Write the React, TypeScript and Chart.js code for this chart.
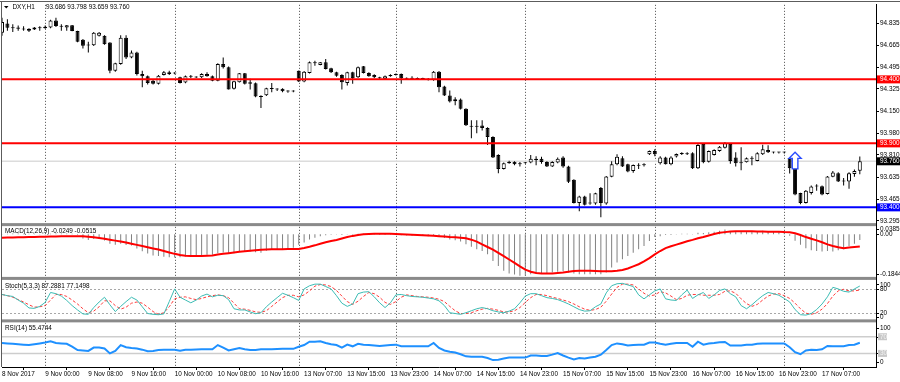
import React, { useEffect, useRef } from 'react';
import { Chart, registerables } from 'chart.js';

Chart.register(...registerables);

// ---------------- data ----------------
const SYMBOL = 'DXY,H1';
const LAST_OHLC = ['93.686', '93.798', '93.659', '93.760'];

const TIME_LABELS = [
  '8 Nov 2017', '9 Nov 00:00', '9 Nov 08:00', '9 Nov 16:00', '10 Nov 00:00', '10 Nov 08:00',
  '10 Nov 16:00', '13 Nov 07:00', '13 Nov 15:00', '13 Nov 23:00', '14 Nov 07:00', '14 Nov 15:00',
  '14 Nov 23:00', '15 Nov 07:00', '15 Nov 15:00', '15 Nov 23:00', '16 Nov 07:00', '16 Nov 15:00',
  '16 Nov 23:00', '17 Nov 07:00',
];
const LABEL_STEP = 8;
const SLOT_COUNT = 163;
const DAY_STARTS = [8, 32, 55, 73, 97, 121, 145];

const OPEN = [
  94.765, 94.837, 94.800, 94.805, 94.795, 94.795, 94.790, 94.805, 94.800, 94.805,
  94.860, 94.817, 94.805, 94.822, 94.778, 94.710, 94.665, 94.667, 94.740, 94.740,
  94.688, 94.468, 94.520, 94.726, 94.571, 94.610, 94.442, 94.424, 94.390, 94.365,
  94.434, 94.455, 94.445, 94.416, 94.375, 94.424, 94.420, 94.416, 94.442, 94.424,
  94.390, 94.520, 94.494, 94.326, 94.378, 94.447, 94.378, 94.370, 94.267, 94.275,
  94.330, 94.326, 94.326, 94.310, 94.305, 94.468, 94.383, 94.450, 94.530, 94.512,
  94.533, 94.486, 94.455, 94.434, 94.372, 94.455, 94.416, 94.502, 94.450, 94.434,
  94.416, 94.405, 94.424, 94.434, 94.442, 94.409, 94.405, 94.410, 94.403, 94.405,
  94.398, 94.460, 94.345, 94.274, 94.230, 94.243, 94.171, 94.030, 94.030, 94.040,
  94.020, 93.950, 93.810, 93.700, 93.745, 93.757, 93.737, 93.745, 93.750, 93.780,
  93.780, 93.755, 93.720, 93.750, 93.790, 93.720, 93.615, 93.435, 93.485, 93.430,
  93.430, 93.551, 93.430, 93.640, 93.737, 93.783, 93.737, 93.685, 93.725, 93.730,
  93.815, 93.840, 93.745, 93.790, 93.737, 93.797, 93.817, 93.820, 93.822, 93.706,
  93.895, 93.757, 93.810, 93.840, 93.865, 93.895, 93.790, 93.745, 93.753, 93.783,
  93.763, 93.815, 93.848, 93.830, 93.828, 93.830, 93.785, 93.705, 93.512, 93.434,
  93.512, 93.563, 93.565, 93.505, 93.640, 93.667, 93.602, 93.603, 93.660, 93.686,
];
const HIGH = [
  94.882, 94.870, 94.830, 94.820, 94.815, 94.800, 94.810, 94.815, 94.820, 94.865,
  94.882, 94.830, 94.825, 94.825, 94.780, 94.715, 94.693, 94.770, 94.770, 94.745,
  94.690, 94.530, 94.745, 94.745, 94.625, 94.615, 94.468, 94.430, 94.400, 94.435,
  94.465, 94.468, 94.455, 94.420, 94.430, 94.435, 94.425, 94.447, 94.455, 94.430,
  94.525, 94.571, 94.500, 94.390, 94.450, 94.450, 94.405, 94.375, 94.275, 94.335,
  94.372, 94.330, 94.330, 94.315, 94.315, 94.470, 94.465, 94.540, 94.546, 94.535,
  94.560, 94.490, 94.460, 94.440, 94.460, 94.460, 94.500, 94.505, 94.455, 94.440,
  94.420, 94.430, 94.440, 94.445, 94.445, 94.415, 94.425, 94.415, 94.412, 94.410,
  94.465, 94.465, 94.350, 94.313, 94.260, 94.250, 94.175, 94.080, 94.080, 94.080,
  94.025, 93.955, 93.815, 93.750, 93.765, 93.760, 93.755, 93.755, 93.810, 93.800,
  93.795, 93.760, 93.760, 93.790, 93.800, 93.725, 93.620, 93.490, 93.490, 93.510,
  93.515, 93.560, 93.645, 93.760, 93.815, 93.800, 93.740, 93.735, 93.745, 93.745,
  93.845, 93.855, 93.800, 93.795, 93.800, 93.820, 93.830, 93.830, 93.830, 93.900,
  93.900, 93.845, 93.855, 93.880, 93.910, 93.900, 93.830, 93.870, 93.790, 93.800,
  93.830, 93.890, 93.885, 93.835, 93.835, 93.835, 93.790, 93.710, 93.515, 93.535,
  93.570, 93.580, 93.570, 93.645, 93.685, 93.675, 93.630, 93.675, 93.695, 93.798,
];
const LOW = [
  94.740, 94.780, 94.770, 94.780, 94.780, 94.770, 94.785, 94.780, 94.795, 94.800,
  94.810, 94.780, 94.780, 94.775, 94.690, 94.641, 94.610, 94.660, 94.735, 94.670,
  94.447, 94.460, 94.515, 94.560, 94.565, 94.430, 94.339, 94.360, 94.360, 94.360,
  94.430, 94.435, 94.440, 94.368, 94.370, 94.410, 94.410, 94.410, 94.420, 94.385,
  94.385, 94.485, 94.320, 94.320, 94.375, 94.360, 94.321, 94.260, 94.176, 94.270,
  94.300, 94.310, 94.300, 94.295, 94.300, 94.380, 94.378, 94.445, 94.507, 94.510,
  94.478, 94.450, 94.420, 94.321, 94.352, 94.365, 94.410, 94.445, 94.420, 94.410,
  94.400, 94.400, 94.420, 94.430, 94.365, 94.400, 94.400, 94.398, 94.398, 94.392,
  94.390, 94.300, 94.270, 94.220, 94.197, 94.165, 94.035, 93.940, 93.980, 94.000,
  93.887, 93.785, 93.667, 93.695, 93.740, 93.730, 93.720, 93.740, 93.745, 93.730,
  93.740, 93.715, 93.715, 93.745, 93.710, 93.590, 93.430, 93.370, 93.415, 93.420,
  93.420, 93.323, 93.420, 93.635, 93.730, 93.715, 93.675, 93.670, 93.700, 93.720,
  93.810, 93.800, 93.735, 93.735, 93.730, 93.790, 93.810, 93.810, 93.700, 93.700,
  93.745, 93.750, 93.805, 93.835, 93.860, 93.740, 93.720, 93.690, 93.750, 93.730,
  93.760, 93.810, 93.825, 93.820, 93.820, 93.820, 93.665, 93.495, 93.425, 93.430,
  93.500, 93.530, 93.495, 93.500, 93.635, 93.598, 93.570, 93.545, 93.640, 93.659,
];
const CLOSE = [
  94.848, 94.804, 94.805, 94.795, 94.790, 94.780, 94.805, 94.800, 94.812, 94.860,
  94.817, 94.812, 94.822, 94.778, 94.693, 94.662, 94.668, 94.765, 94.765, 94.675,
  94.468, 94.525, 94.726, 94.571, 94.610, 94.442, 94.424, 94.372, 94.365, 94.429,
  94.455, 94.442, 94.447, 94.372, 94.424, 94.420, 94.415, 94.442, 94.424, 94.390,
  94.520, 94.494, 94.321, 94.385, 94.447, 94.365, 94.365, 94.267, 94.262, 94.330,
  94.325, 94.320, 94.308, 94.305, 94.310, 94.383, 94.460, 94.533, 94.525, 94.533,
  94.481, 94.455, 94.429, 94.378, 94.455, 94.409, 94.494, 94.450, 94.424, 94.416,
  94.409, 94.424, 94.434, 94.440, 94.409, 94.405, 94.410, 94.403, 94.405, 94.398,
  94.460, 94.339, 94.274, 94.228, 94.245, 94.171, 94.042, 94.030, 94.035, 94.020,
  93.950, 93.790, 93.700, 93.745, 93.757, 93.737, 93.745, 93.750, 93.780, 93.770,
  93.755, 93.720, 93.755, 93.780, 93.720, 93.600, 93.435, 93.485, 93.420, 93.430,
  93.510, 93.434, 93.641, 93.737, 93.796, 93.719, 93.680, 93.731, 93.730, 93.733,
  93.840, 93.815, 93.790, 93.737, 93.790, 93.817, 93.820, 93.815, 93.706, 93.887,
  93.752, 93.840, 93.848, 93.874, 93.900, 93.763, 93.745, 93.750, 93.783, 93.780,
  93.822, 93.855, 93.830, 93.828, 93.830, 93.828, 93.705, 93.500, 93.434, 93.530,
  93.563, 93.567, 93.500, 93.641, 93.672, 93.602, 93.605, 93.667, 93.685, 93.760,
];

const PRICE_TICKS = [94.835, 94.665, 94.495, 94.325, 94.15, 93.98, 93.81, 93.635, 93.465, 93.295];
const RESISTANCE_LEVELS = [94.4, 93.9];
const SUPPORT_LEVELS = [93.4];
const BID_PRICE = 93.76;
const ARROW_BAR = 147;
const ARROW_PRICE = 93.83;

const MACD_TITLE = 'MACD(12,26,9) -0.0249 -0.0515';
const MACD_MAIN = [
  0.001, 0.002, 0.003, 0.003, 0.002, 0.002, 0.001, 0.001, 0.001, 0.002,
  0.003, 0.003, 0.003, 0.002, -0.002, -0.018, -0.024, -0.020, -0.019, -0.026,
  -0.040, -0.045, -0.040, -0.046, -0.048, -0.060, -0.072, -0.082, -0.090, -0.092,
  -0.095, -0.097, -0.098, -0.097, -0.094, -0.092, -0.090, -0.088, -0.087, -0.087,
  -0.080, -0.077, -0.084, -0.080, -0.073, -0.074, -0.073, -0.076, -0.078, -0.070,
  -0.066, -0.063, -0.062, -0.060, -0.057, -0.045, -0.035, -0.022, -0.015, -0.008,
  -0.004, -0.002, 0.001, -0.003, -0.001, -0.002, 0.002, 0.002, 0.000, -0.002,
  -0.003, -0.003, -0.002, -0.002, -0.004, -0.005, -0.006, -0.006, -0.007, -0.008,
  -0.004, -0.010, -0.016, -0.022, -0.025, -0.031, -0.042, -0.053, -0.064, -0.071,
  -0.085, -0.113, -0.134, -0.155, -0.166, -0.171, -0.176, -0.176, -0.169, -0.166,
  -0.164, -0.164, -0.162, -0.159, -0.157, -0.162, -0.166, -0.169, -0.169, -0.169,
  -0.169, -0.169, -0.162, -0.141, -0.120, -0.106, -0.092, -0.078, -0.064, -0.050,
  -0.029, -0.012, -0.008, -0.003, -0.003, -0.001, 0.002, 0.002, -0.001, 0.006,
  0.005, 0.008, 0.011, 0.015, 0.020, 0.013, 0.010, 0.009, 0.010, 0.010,
  0.012, 0.015, 0.014, 0.013, 0.012, 0.011, -0.006, -0.028, -0.045, -0.059,
  -0.068, -0.071, -0.073, -0.071, -0.073, -0.068, -0.064, -0.050, -0.040, -0.0249,
];
const MACD_SIGNAL = [
  -0.0146, -0.014, -0.0135, -0.013, -0.0125, -0.012, -0.0115, -0.011, -0.0105, -0.010,
  -0.0095, -0.009, -0.0085, -0.008, -0.008, -0.009, -0.011, -0.013, -0.016, -0.019,
  -0.023, -0.027, -0.031, -0.035, -0.040, -0.045, -0.050, -0.055, -0.060, -0.065,
  -0.071, -0.077, -0.083, -0.088, -0.091, -0.092, -0.092, -0.092, -0.091, -0.090,
  -0.086, -0.083, -0.080, -0.077, -0.074, -0.072, -0.070, -0.068, -0.066, -0.065,
  -0.064, -0.064, -0.0636, -0.063, -0.063, -0.062, -0.058, -0.053, -0.047, -0.040,
  -0.034, -0.029, -0.024, -0.018, -0.012, -0.007, -0.003, 0.000, 0.001, 0.002,
  0.002, 0.002, 0.002, 0.001, 0.000, -0.001, -0.002, -0.003, -0.004, -0.005,
  -0.006, -0.008, -0.010, -0.0118, -0.013, -0.0146, -0.0174, -0.023, -0.031, -0.043,
  -0.054, -0.065, -0.079, -0.093, -0.107, -0.121, -0.136, -0.150, -0.159, -0.164,
  -0.166, -0.166, -0.166, -0.164, -0.162, -0.159, -0.156, -0.155, -0.155, -0.155,
  -0.156, -0.157, -0.157, -0.157, -0.155, -0.151, -0.145, -0.136, -0.127, -0.115,
  -0.101, -0.085, -0.071, -0.059, -0.051, -0.044, -0.037, -0.030, -0.024, -0.017,
  -0.012, -0.005, 0.001, 0.006, 0.009, 0.012, 0.013, 0.013, 0.013, 0.013,
  0.012, 0.012, 0.011, 0.011, 0.011, 0.009, 0.008, 0.004, -0.003, -0.012,
  -0.019, -0.026, -0.034, -0.043, -0.050, -0.055, -0.059, -0.056, -0.054, -0.0515,
];
const MACD_AXIS = [0.0385, 0, -0.1844];
const MACD_AXIS_LABELS = ['0.0385', '0.00', '-0.1844'];

const STOCH_TITLE = 'Stoch(5,3,3) 87.2881 77.1498';
const STOCH_K = [
  66, 63, 61, 52, 44, 32, 31, 36, 46, 71,
  68, 62, 51, 38, 27, 17, 16, 33, 47, 59,
  40, 23, 36, 48, 59, 52, 35, 18, 16, 15,
  17, 48, 80, 59, 52, 45, 52, 62, 67, 60,
  64, 63, 53, 30, 27, 27, 22, 17.5, 20, 35,
  47, 58, 69, 64, 58, 51, 80, 88, 92, 92,
  86, 80, 63, 44, 36, 42, 68, 72, 73, 60,
  45, 33, 45, 65, 66, 63, 61, 60, 59, 57,
  55, 50, 38, 20, 18, 16, 20, 25, 30, 33,
  30, 25, 22, 20, 24, 30, 45, 62, 68, 68,
  63, 58, 56, 53, 48, 42, 35, 28, 24, 25,
  35, 42, 70, 88, 93, 94, 90, 86, 65, 55,
  65, 75, 80, 55, 52, 51, 65, 77, 56, 65,
  71, 56, 65, 76, 80, 68, 60, 38, 30, 40,
  52, 63, 71, 68, 64, 56, 47, 28, 15, 14,
  18, 28, 42, 60, 84, 80, 74, 72, 80, 87.29,
];
const STOCH_D = [
  66, 63, 59, 53, 47, 40, 34, 35, 38, 52,
  66, 66, 61, 52, 42, 30, 20, 24, 35, 50,
  50, 38, 29, 34, 44, 47, 44, 34, 23, 16,
  20, 35, 55, 59, 60, 56, 53, 56, 60, 63,
  65, 63, 58, 44, 30, 29, 26, 22, 21, 25,
  36, 47, 58, 64, 64, 60, 65, 75, 87, 91,
  90, 86, 76, 62, 48, 41, 49, 61, 71, 68,
  59, 46, 41, 48, 59, 65, 63, 61, 60, 59,
  57, 54, 48, 36, 25, 18, 18, 20, 25, 29,
  31, 29, 26, 22, 22, 25, 33, 46, 58, 66,
  66, 63, 59, 56, 52, 48, 42, 35, 29, 26,
  28, 34, 49, 67, 84, 92, 92, 90, 80, 69,
  62, 65, 73, 70, 62, 53, 56, 64, 66, 66,
  64, 64, 64, 66, 74, 75, 69, 55, 43, 36,
  41, 52, 62, 67, 68, 63, 56, 44, 30, 19,
  16, 20, 29, 43, 62, 75, 79, 75, 75, 77.15,
];
const STOCH_AXIS = [100, 80, 20, 0];
const STOCH_LEVELS = [80, 20];

const RSI_TITLE = 'RSI(14) 55.4744';
const RSI_VALUES = [
  55, 54, 53, 52, 51, 50, 52, 54, 56, 59,
  55, 54, 53, 46, 38, 37, 36, 44, 44, 42,
  30, 36, 50, 45, 43, 42, 39, 35, 36, 38,
  38.5, 39, 39, 36.5, 39, 39, 39.5, 40, 40, 40,
  50, 44, 37, 40, 43, 40, 38, 38, 40, 40,
  40, 40.5, 41, 41, 41, 46, 50, 58, 58, 59,
  55, 52, 50, 44, 51, 47, 53, 51, 50, 49,
  48, 49, 50, 51, 47, 47, 47, 47, 47, 47,
  55, 43, 37, 34, 32, 28, 23, 22, 22, 22,
  19, 14, 15, 18, 20, 20, 20, 20, 25, 25,
  24, 24, 27, 31, 25, 20, 15.5, 19, 18, 20,
  22, 27, 38, 50, 54, 52, 49, 50, 50.5, 51,
  56, 56, 53, 51, 53, 55, 55, 55, 46, 58,
  51, 54, 55, 56.5, 57.5, 49, 49, 49, 50.5, 51,
  53, 54, 54, 54, 54, 54, 45, 33, 28, 37,
  39, 38, 40, 48, 47, 47, 47, 50, 51, 55.47,
];
const RSI_AXIS = [100, 70, 30, 0];
const RSI_LEVELS = [70, 30];

// ---------------- style ----------------
const FONT_FAMILY = '"Liberation Sans", Arial, sans-serif';
const FONT_SIZE = 6.4;
const FONT = `${FONT_SIZE}px ${FONT_FAMILY}`;

function hLine(ctx: CanvasRenderingContext2D, x1: number, x2: number, y: number) {
  ctx.beginPath();
  ctx.moveTo(x1, y);
  ctx.lineTo(x2, y);
  ctx.stroke();
}

const mt4Plugin = {
  id: 'mt4',
  beforeDatasetsDraw(chart: any) {
    const { ctx, chartArea: a, scales } = chart;
    const x = scales.x;
    ctx.save();
    ctx.strokeStyle = '#4a4a4a';
    ctx.lineWidth = 1;
    ctx.setLineDash([1, 2]);
    DAY_STARTS.forEach((d) => {
      const px = Math.round(x.getPixelForValue(d)) + 0.5;
      ctx.beginPath();
      ctx.moveTo(px, a.top);
      ctx.lineTo(px, a.bottom);
      ctx.stroke();
    });
    ctx.strokeStyle = '#a8a8a8';
    ctx.setLineDash([2, 2]);
    STOCH_LEVELS.forEach((v) => hLine(ctx, a.left, a.right, Math.round(scales.stoch.getPixelForValue(v)) + 0.5));
    ctx.setLineDash([]);
    ctx.strokeStyle = '#cdcdcd';
    ctx.lineWidth = 1.5;
    RSI_LEVELS.forEach((v) => hLine(ctx, a.left, a.right, scales.rsi.getPixelForValue(v)));
    ctx.strokeStyle = '#dcdcdc';
    ctx.lineWidth = 1.5;
    hLine(ctx, a.left, a.right, scales.y.getPixelForValue(BID_PRICE));
    ctx.restore();
  },
  afterDatasetsDraw(chart: any) {
    const { ctx, chartArea: a, scales } = chart;
    const y = scales.y;
    ctx.save();
    ctx.lineWidth = 2;
    ctx.strokeStyle = '#ff0000';
    RESISTANCE_LEVELS.forEach((v) => hLine(ctx, a.left, a.right, y.getPixelForValue(v)));
    ctx.strokeStyle = '#0000ff';
    SUPPORT_LEVELS.forEach((v) => hLine(ctx, a.left, a.right, y.getPixelForValue(v)));
    const cx = scales.x.getPixelForValue(ARROW_BAR);
    const ty = y.getPixelForValue(ARROW_PRICE);
    ctx.beginPath();
    ctx.moveTo(cx, ty);
    ctx.lineTo(cx + 6, ty + 6);
    ctx.lineTo(cx + 2.8, ty + 6);
    ctx.lineTo(cx + 2.8, ty + 16.5);
    ctx.lineTo(cx - 2.8, ty + 16.5);
    ctx.lineTo(cx - 2.8, ty + 6);
    ctx.lineTo(cx - 6, ty + 6);
    ctx.closePath();
    ctx.fillStyle = '#ffffff';
    ctx.fill();
    ctx.strokeStyle = '#2a4dff';
    ctx.lineWidth = 1.4;
    ctx.stroke();
    ctx.restore();
  },
  afterDraw(chart: any) {
    const { ctx, chartArea: a, scales } = chart;
    ctx.save();
    ctx.fillStyle = '#8a8a8a';
    [scales.y.bottom, scales.macd.bottom, scales.stoch.bottom].forEach((b: number) => {
      ctx.fillRect(a.left, b - 1.5, a.right - a.left, 3);
    });
    ctx.fillStyle = '#5c5c5c';
    ctx.fillRect(0, 1, 900, 1);
    ctx.fillRect(1, 1, 1, a.bottom - 1);

    ctx.font = FONT;
    ctx.textBaseline = 'middle';
    ctx.textAlign = 'left';
    ctx.fillStyle = '#000000';
    ctx.beginPath();
    ctx.moveTo(4, 6);
    ctx.lineTo(8.5, 6);
    ctx.lineTo(6.25, 8.5);
    ctx.closePath();
    ctx.fill();
    ctx.fillText(SYMBOL, 12.5, 7.5);
    ctx.fillText(LAST_OHLC.join(' '), 46, 7.5);
    ctx.fillText(MACD_TITLE, 5, scales.macd.top + 7);
    ctx.fillText(STOCH_TITLE, 5, scales.stoch.top + 8);
    ctx.fillText(RSI_TITLE, 5, scales.rsi.top + 7);

    const tag = (v: number, bg: string) => {
      const py = scales.y.getPixelForValue(v);
      ctx.fillStyle = bg;
      ctx.fillRect(a.right + 1, py - 4, 900 - a.right - 1, 8);
      ctx.fillStyle = '#ffffff';
      ctx.fillText(v.toFixed(3), a.right + 4, py + 0.3);
    };
    RESISTANCE_LEVELS.forEach((v) => tag(v, '#ff0000'));
    SUPPORT_LEVELS.forEach((v) => tag(v, '#0000ff'));
    tag(BID_PRICE, '#000000');

    const axisLabels = (scale: any, values: number[], labels: string[], boxed: number[]) => {
      values.forEach((v, k) => {
        let py = scale.getPixelForValue(v);
        if (k === 0) py += 3.5;
        if (k === values.length - 1) py -= 3.8;
        ctx.fillStyle = '#000000';
        ctx.fillRect(a.right, Math.round(py), 3, 1);
        if (boxed.includes(v)) {
          ctx.fillStyle = '#c8c8c8';
          ctx.fillRect(a.right + 2, py - 3.5, 9, 7);
          ctx.fillStyle = '#f4f4f4';
        } else {
          ctx.fillStyle = '#000000';
        }
        ctx.fillText(labels[k], a.right + 4, py + 0.3);
      });
    };
    axisLabels(scales.macd, MACD_AXIS, MACD_AXIS_LABELS, []);
    axisLabels(scales.stoch, STOCH_AXIS, STOCH_AXIS.map(String), []);
    axisLabels(scales.rsi, RSI_AXIS, RSI_AXIS.map(String), RSI_LEVELS);
    ctx.restore();
  },
};

export default function App() {
  const ref = useRef<HTMLCanvasElement | null>(null);

  useEffect(() => {
    document.body.style.margin = '0';
    const canvas = ref.current;
    if (!canvas) return;

    const slots = Array.from({ length: SLOT_COUNT }, (_, i) =>
      i % LABEL_STEP === 0 && i / LABEL_STEP < TIME_LABELS.length ? TIME_LABELS[i / LABEL_STEP] : ''
    );
    const wicks = LOW.map((l, i) => [l, HIGH[i]]);
    const bodies = OPEN.map((o, i) => [o, CLOSE[i]]);
    const bodyFill = OPEN.map((o, i) => (CLOSE[i] >= o ? '#ffffff' : '#000000'));

    const font = { family: FONT_FAMILY, size: FONT_SIZE };
    const sideAxis = (weight: number, stackWeight: number, min: number, max: number) => ({
      type: 'linear',
      position: 'right',
      stack: 'panes',
      stackWeight,
      weight,
      min,
      max,
      grid: { display: false },
      border: { display: true, color: '#000000', width: 1 },
      ticks: { display: false },
      afterFit: (s: any) => {
        s.width = 24;
      },
    });

    const chart = new Chart(canvas, {
      type: 'bar',
      data: {
        labels: slots,
        datasets: [
          {
            type: 'bar',
            data: bodies as any,
            yAxisID: 'y',
            backgroundColor: bodyFill,
            borderColor: '#000000',
            borderWidth: 1,
            borderSkipped: false,
            barThickness: 4,
            minBarLength: 1,
            grouped: false,
            inflateAmount: 0,
            order: 0,
          },
          {
            type: 'bar',
            data: wicks as any,
            yAxisID: 'y',
            backgroundColor: '#000000',
            borderWidth: 0,
            barThickness: 1,
            grouped: false,
            inflateAmount: 0,
            order: 1,
          },
          {
            type: 'bar',
            data: MACD_MAIN,
            yAxisID: 'macd',
            backgroundColor: '#808080',
            borderWidth: 0,
            barThickness: 1,
            grouped: false,
            inflateAmount: 0,
            order: 5,
          },
          {
            type: 'line',
            data: MACD_SIGNAL,
            yAxisID: 'macd',
            borderColor: '#ff0000',
            borderWidth: 2,
            pointRadius: 0,
            tension: 0,
            order: 2,
          },
          {
            type: 'line',
            data: STOCH_D,
            yAxisID: 'stoch',
            borderColor: '#ff3b3b',
            borderWidth: 1,
            borderDash: [3, 2],
            pointRadius: 0,
            tension: 0,
            order: 3,
          },
          {
            type: 'line',
            data: STOCH_K,
            yAxisID: 'stoch',
            borderColor: '#3cbcb4',
            borderWidth: 1,
            pointRadius: 0,
            tension: 0,
            order: 2,
          },
          {
            type: 'line',
            data: RSI_VALUES,
            yAxisID: 'rsi',
            borderColor: '#1e90ff',
            borderWidth: 2,
            pointRadius: 0,
            tension: 0,
            order: 2,
          },
        ],
      },
      options: {
        animation: false,
        responsive: false,
        maintainAspectRatio: false,
        devicePixelRatio: 1,
        events: [],
        layout: { padding: { left: 2, top: 2, right: 0, bottom: 0 } },
        plugins: { legend: { display: false }, tooltip: { enabled: false } },
        scales: {
          x: {
            type: 'category',
            offset: false,
            grid: {
              display: true,
              drawOnChartArea: false,
              drawTicks: true,
              tickLength: 3,
              tickColor: '#000000',
              color: 'rgba(0,0,0,0)',
            },
            border: { display: true, color: '#000000', width: 1 },
            ticks: {
              autoSkip: false,
              maxRotation: 0,
              minRotation: 0,
              align: 'start',
              padding: 0,
              color: '#000000',
              font,
            },
            afterBuildTicks: (s: any) => {
              s.ticks = TIME_LABELS.map((_, k) => ({ value: k * LABEL_STEP }));
            },
            afterFit: (s: any) => {
              s.height = 15;
            },
          },
          y: {
            type: 'linear',
            position: 'right',
            stack: 'panes',
            stackWeight: 221.5,
            weight: 0,
            min: 93.2652,
            max: 94.9823,
            grid: { display: true, drawOnChartArea: false, drawTicks: true, tickLength: 3, tickColor: '#000000' },
            border: { display: true, color: '#000000', width: 1 },
            ticks: {
              autoSkip: false,
              padding: 1,
              color: '#000000',
              font,
              callback: (v: any) => Number(v).toFixed(3),
            },
            afterBuildTicks: (s: any) => {
              s.ticks = PRICE_TICKS.map((v) => ({ value: v }));
            },
            afterFit: (s: any) => {
              s.width = 24;
            },
          },
          macd: sideAxis(1, 54.2, -0.18697, 0.04076) as any,
          stoch: sideAxis(2, 42.8, -0.5, 106.5) as any,
          rsi: sideAxis(3, 46.5, -2.62, 108.1) as any,
        },
      } as any,
      plugins: [mt4Plugin],
    });

    return () => chart.destroy();
  }, []);

  return (
    <div style={{ width: 900, height: 382, position: 'relative' }}>
      <canvas ref={ref} width={900} height={382} style={{ display: 'block', width: 900, height: 382 }} />
    </div>
  );
}
